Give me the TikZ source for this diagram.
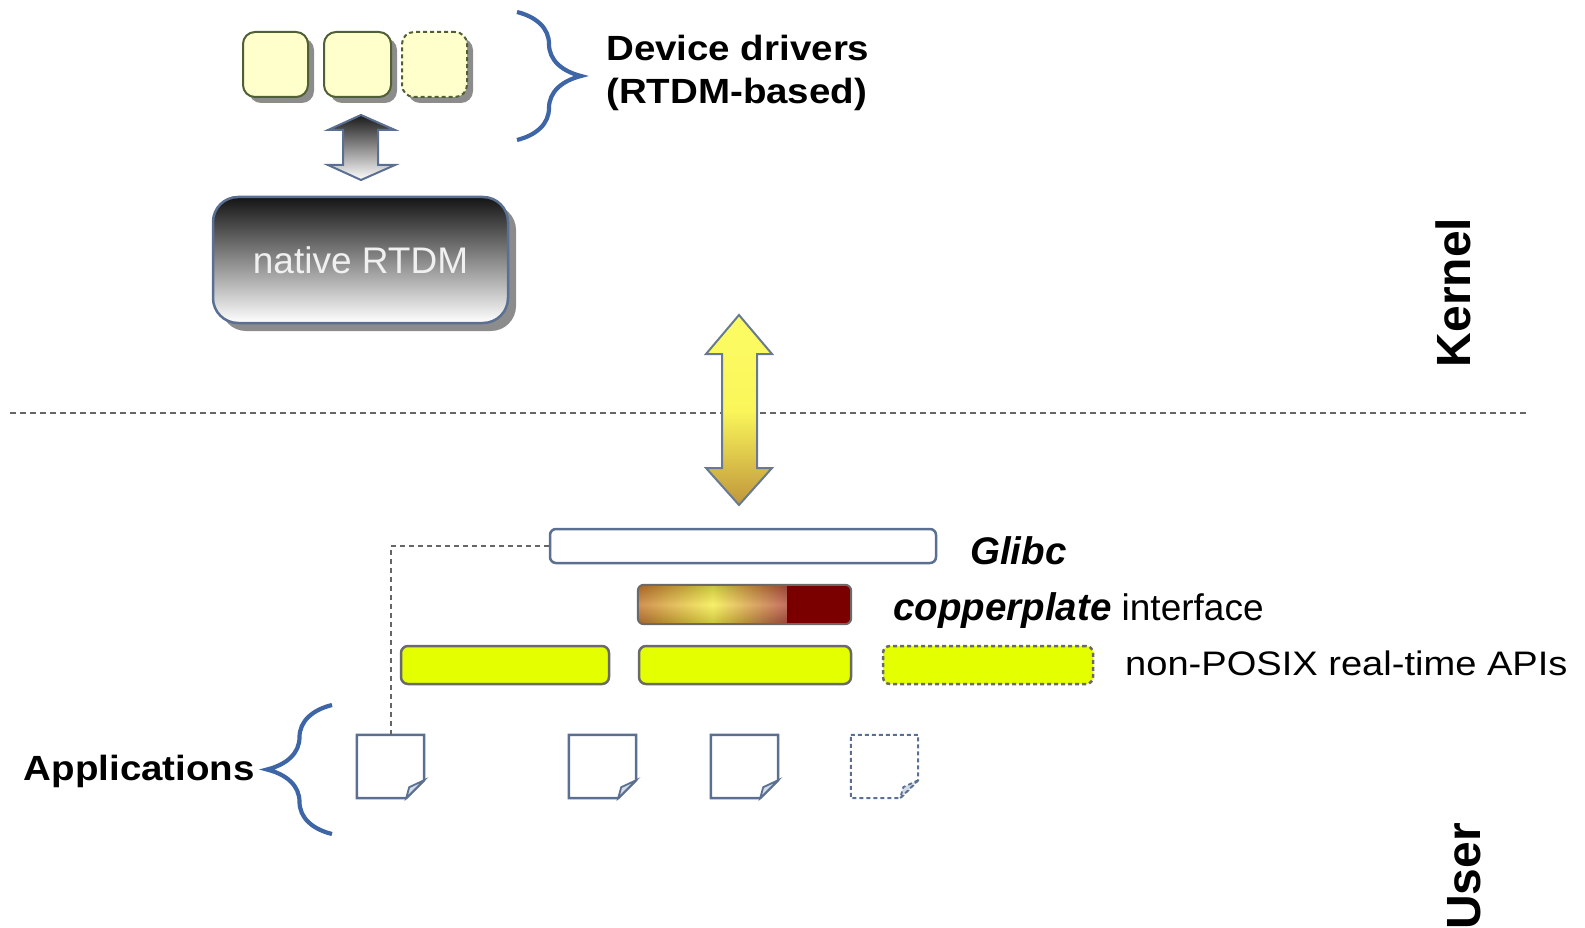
\documentclass[tikz,border=0pt]{standalone}
\usepackage{fontspec}
\setmainfont{Liberation Sans}
\newfontfamily\bwfont[FakeStretch=1.1]{Liberation Sans}
\newfontfamily\wfont[FakeStretch=1.12]{Liberation Sans}
\usetikzlibrary{shadows,decorations.pathreplacing,calc}
\definecolor{drvfill}{HTML}{FFFFCC}
\definecolor{drvline}{HTML}{4F6034}
\definecolor{shadowgray}{HTML}{8C8C8C}
\definecolor{bracecol}{HTML}{3E66A6}
\definecolor{boxline}{HTML}{5A6F92}
\definecolor{apifill}{HTML}{E4FF00}
\definecolor{apiline}{HTML}{6A6A6A}
\definecolor{sepline}{HTML}{666666}
\definecolor{arrowline}{HTML}{687A92}
\definecolor{darkred}{HTML}{7A0000}
\definecolor{foldfill}{HTML}{D4DCEA}
\newcommand\fsz[1]{\fontsize{#1}{#1}\selectfont}
\newcommand\docicon[2]{%
  \draw[docline,#2] (#1.north west) -- (#1.north east) -- ([yshift=18pt]#1.south east)
     -- ([xshift=-18pt]#1.south east) -- (#1.south west) -- cycle;
  \filldraw[docline,#2,fill=foldfill,line width=1.8pt] ([yshift=18pt]#1.south east)
     -- ([xshift=-15pt,yshift=11pt]#1.south east) -- ([xshift=-18pt]#1.south east) -- cycle;}
\tikzset{
  drvbox/.style={draw=drvline, line width=2pt, fill=drvfill, rounded corners=12pt,
    minimum height=65pt, inner sep=0pt,
    drop shadow={shadow xshift=6pt, shadow yshift=-6pt, fill=shadowgray, opacity=1}},
  apibar/.style={draw=apiline, line width=2.5pt, fill=apifill, rounded corners=7pt,
    minimum height=38pt, inner sep=0pt},
  appbox/.style={minimum width=67pt, minimum height=63pt, inner sep=0pt},
  docline/.style={draw=boxline, line width=2.5pt, line join=miter},
  bracestyle/.style={draw=bracecol, line width=4.2pt, decorate,
    decoration={brace, amplitude=64pt, aspect=0.5}},
  boldlbl/.style={font=\bwfont\bfseries\fsz{35}, inner sep=0pt},
  sidelbl/.style={font=\bfseries\fsz{48}, inner sep=0pt, rotate=90, anchor=base},
  sepdash/.style={draw=sepline, line width=2pt, dash pattern=on 6pt off 4pt},
  conndash/.style={draw=sepline, line width=2pt, dash pattern=on 5pt off 4pt},
  blockarrow/.style={draw=arrowline, line width=2pt, line join=miter},
}
\begin{document}
\begin{tikzpicture}[x=1pt,y=-1pt]
\useasboundingbox (0,0) rectangle (1585,928);

% separator
\coordinate (sepL) at (10,413);
\coordinate (sepR) at (1527,413);
\draw[sepdash] (sepL) -- (sepR);

% device drivers
\node[drvbox, minimum width=65pt] (drv1) at (275.5,64.5) {};
\node[drvbox, minimum width=67pt] (drv2) at (357.5,64.5) {};
\node[drvbox, minimum width=65pt, dashed, dash pattern=on 4pt off 3pt] (drv3) at (434.5,64.5) {};
\coordinate (brT) at (517,12);
\coordinate (brB) at (517,140);
\draw[bracestyle] (brT) -- (brB);
\node[boldlbl, anchor=base west] (devlbl) at (606,61) {Device drivers};
\node[boldlbl, anchor=base west] (rtdmlbl) at (606,104) {(RTDM-based)};

% native RTDM
\node[draw=boxline, line width=2.5pt, rounded corners=25pt, minimum width=295pt,
  minimum height=126pt, inner sep=0pt, top color=black!92, bottom color=white,
  drop shadow={shadow xshift=8pt, shadow yshift=-8pt, fill=shadowgray, opacity=1},
  text=black!6, font=\fsz{37}] (rtdm) at (360.5,260) {native RTDM};

% small double arrow between drivers and RTDM
\shadedraw[blockarrow, draw=boxline, top color=black!90, bottom color=white]
  (361,115) -- (395,130) -- (378,130) -- (378,165) -- (395,165) -- (361,180)
  -- (328,165) -- (343,165) -- (343,130) -- (328,130) -- cycle;

% big kernel/user arrow
\shadedraw[blockarrow, top color={rgb,255:red,252;green,252;blue,100},
  bottom color={rgb,255:red,192;green,150;blue,60},
  middle color={rgb,255:red,250;green,246;blue,90}]
  (739,315) -- (772,354) -- (757,354) -- (757,468) -- (772,468) -- (739,505)
  -- (706,468) -- (722,468) -- (722,354) -- (706,354) -- cycle;

% side labels
\node[sidelbl] (kernel) at (1470,292.5) {Kernel};
\node[sidelbl] (user) at (1480,876.5) {User};

% Glibc
\node[draw=boxline, line width=2.5pt, fill=white, rounded corners=6pt, minimum width=386pt,
  minimum height=34pt, inner sep=0pt] (glibc) at (743,546) {};
\node[font=\bfseries\itshape\fsz{38.5}, anchor=base west, inner sep=0pt] (glibclbl) at (970,564) {Glibc};

% copperplate
\node[minimum width=213pt, minimum height=39pt, inner sep=0pt] (copper) at (744.5,604.5) {};
\begin{scope}
  \clip[rounded corners=6pt] (copper.north west) rectangle (copper.south east);
  \shade[left color={rgb,255:red,200;green,122;blue,48},
    right color={rgb,255:red,184;green,80;blue,64},
    middle color={rgb,255:red,246;green,238;blue,74}]
    (copper.north west) rectangle ([xshift=-64pt]copper.south east);
  \shade[top color=black, bottom color=black, middle color=white, opacity=0.18]
    (copper.north west) rectangle ([xshift=-64pt]copper.south east);
  \fill[darkred] ([xshift=-64pt]copper.north east) rectangle (copper.south east);
\end{scope}
\draw[draw=apiline, line width=2pt, rounded corners=6pt] (copper.north west) rectangle (copper.south east);
\node[anchor=base west, inner sep=0pt] (copperlbl) at (893,620)
  {\fsz{38.5}\bfseries\itshape copperplate\mdseries\upshape\fsz{37} interface};

% non-POSIX APIs
\node[apibar, minimum width=208pt] (api1) at (505,665) {};
\node[apibar, minimum width=212pt] (api2) at (745,665) {};
\node[apibar, minimum width=210pt, dashed, dash pattern=on 4pt off 3pt] (api3) at (988,665) {};
\node[font=\wfont\fsz{34}, anchor=base west, inner sep=0pt] (apilbl) at (1125,675) {non-POSIX real-time APIs};

% applications
\node[appbox] (app1) at (390.5,766.5) {};
\node[appbox] (app2) at (602.5,766.5) {};
\node[appbox] (app3) at (744.5,766.5) {};
\node[appbox] (app4) at (884.5,766.5) {};
\docicon{app1}{}
\docicon{app2}{}
\docicon{app3}{}
\docicon{app4}{dashed, dash pattern=on 4pt off 3pt, line width=2pt}

\draw[conndash] (glibc.west) -| (app1.north);

\coordinate (abrB) at (332,834);
\coordinate (abrT) at (332,705);
\draw[bracestyle, decoration={brace, amplitude=65pt, aspect=0.5}] (abrB) -- (abrT);
\node[boldlbl, anchor=base east] (applbl) at (255,780) {Applications};
\end{tikzpicture}
\end{document}
